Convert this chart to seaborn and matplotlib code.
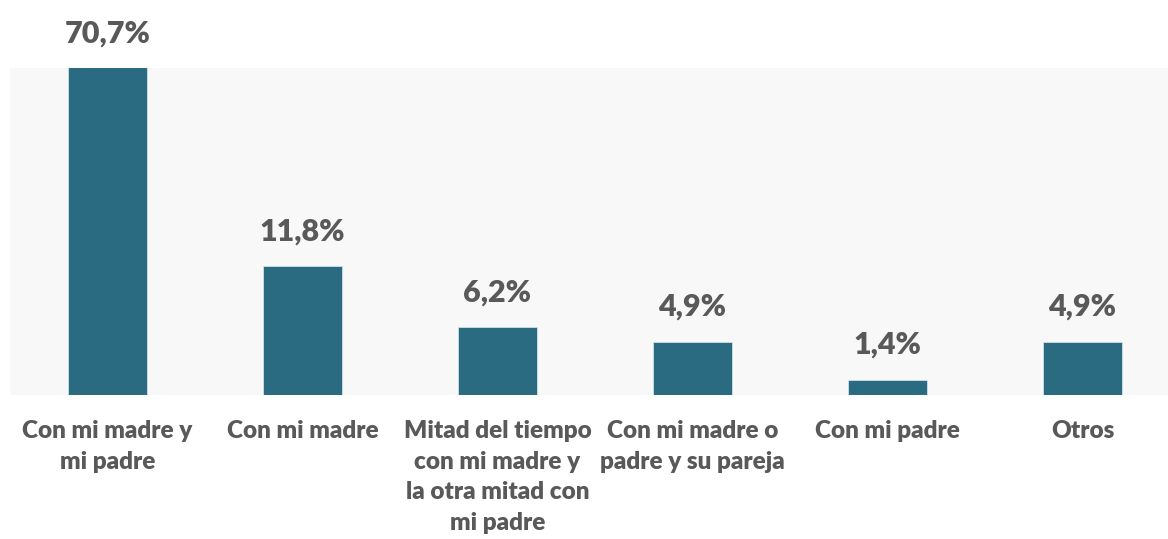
import matplotlib
matplotlib.use("Agg")
import matplotlib.pyplot as plt
import seaborn as sns
import pandas as pd

categories = [
    "Con mi madre y\nmi padre",
    "Con mi madre",
    "Mitad del tiempo\ncon mi madre y\nla otra mitad con\nmi padre",
    "Con mi madre o\npadre y su pareja",
    "Con mi padre",
    "Otros",
]
values = [70.7, 11.8, 6.2, 4.9, 1.4, 4.9]
value_labels = ["70,7%", "11,8%", "6,2%", "4,9%", "1,4%", "4,9%"]
y_max = 30

sns.set_theme(style="white")
plt.rcParams["font.family"] = ["Lato", "DejaVu Sans"]

df = pd.DataFrame({"cat": categories, "val": values})

W, H = 1168, 539
fig = plt.figure(figsize=(W / 100, H / 100), dpi=100)
ax = fig.add_axes([10 / W, 144 / H, 1170 / W, 327 / H])
ax.set_facecolor("#F8F8F8")

sns.barplot(data=df, x="cat", y="val", color="#2B6B82", saturation=1,
            width=0.41, edgecolor="#CFE0E6", linewidth=0.6, ax=ax)

ax.set_ylim(0, y_max)
ax.set_xlim(-0.5, len(categories) - 0.5)
for s in ax.spines.values():
    s.set_visible(False)
ax.set_yticks([])
ax.set_xlabel("")
ax.set_ylabel("")
ax.tick_params(axis="x", length=0, pad=18)
for lbl in ax.get_xticklabels():
    lbl.set_fontsize(17.5)
    lbl.set_fontweight("heavy")
    lbl.set_color("#595959")
    lbl.set_linespacing(1.48)

for i, (v, t) in enumerate(zip(values, value_labels)):
    ax.annotate(t, xy=(i, min(v, y_max)), xytext=(0, 15), textcoords="offset points",
                ha="center", va="bottom", fontsize=22, fontweight="heavy",
                color="#595959", annotation_clip=False)

fig.savefig("out.png", dpi=100)
